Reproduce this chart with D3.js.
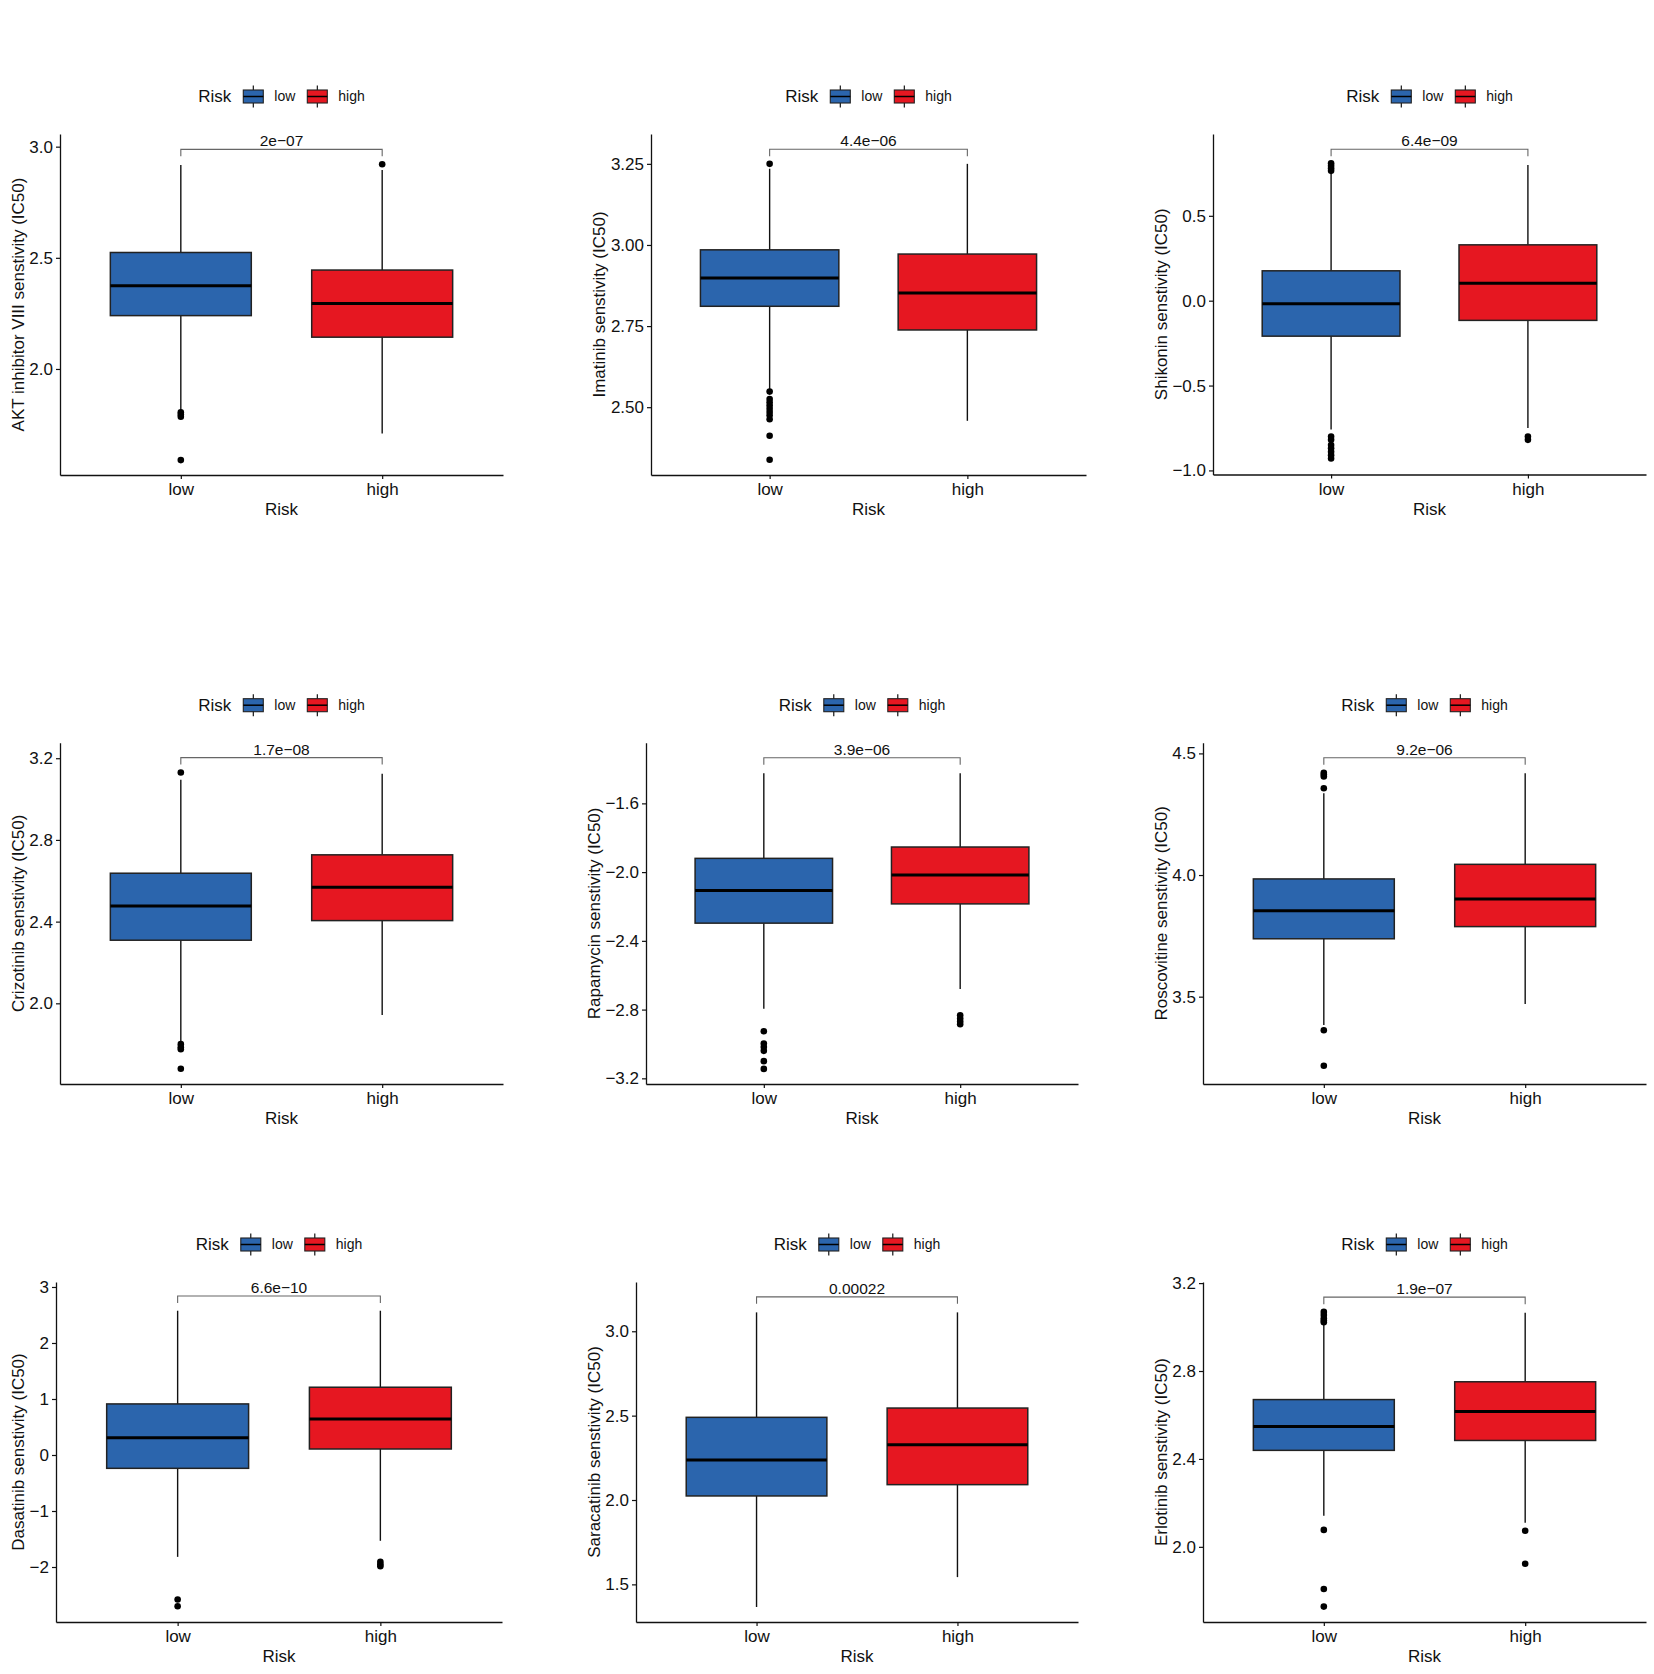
<!DOCTYPE html>
<html>
<head>
<meta charset="utf-8">
<script src="https://cdn.jsdelivr.net/npm/d3@7"></script>
<style>
  body { margin: 0; background: #fff; }
  text { font-family: "Liberation Sans", Arial, sans-serif; }
</style>
</head>
<body>
<script>
// groups and colours
var risk = ["low", "high"];
var riskColors = { "low": "#2b65ad", "high": "#e61721" };

var drugs = ["AKT inhibitor VIII", "Imatinib", "Shikonin",
             "Crizotinib", "Rapamycin", "Roscovitine",
             "Dasatinib", "Saracatinib", "Erlotinib"];

var pValues = ["2e-07", "4.4e-06", "6.4e-09",
               "1.7e-08", "3.9e-06", "9.2e-06",
               "6.6e-10", "0.00022", "1.9e-07"];

// [lower whisker, Q1, median, Q3, upper whisker]
var lowStats = [
  [1.815, 2.240, 2.374, 2.524, 2.918],
  [2.553, 2.811, 2.898, 2.985, 3.235],
  [-0.759, -0.209, -0.018, 0.176, 0.747],
  [1.812, 2.309, 2.477, 2.637, 3.094],
  [-2.795, -2.297, -2.107, -1.920, -1.425],
  [3.384, 3.738, 3.853, 3.984, 4.336],
  [-1.819, -0.238, 0.310, 0.912, 2.576],
  [1.366, 2.024, 2.237, 2.490, 3.112],
  [2.141, 2.439, 2.547, 2.670, 3.012]
];
var highStats = [
  [1.710, 2.143, 2.295, 2.445, 2.895],
  [2.458, 2.738, 2.852, 2.972, 3.250],
  [-0.750, -0.116, 0.102, 0.329, 0.800],
  [1.943, 2.405, 2.568, 2.727, 3.124],
  [-2.680, -2.185, -2.017, -1.854, -1.425],
  [3.470, 3.788, 3.901, 4.044, 4.418],
  [-1.532, 0.107, 0.644, 1.210, 2.576],
  [1.543, 2.091, 2.328, 2.545, 3.112],
  [2.110, 2.484, 2.616, 2.751, 3.065]
];
var lowOutliers = [
  [1.805, 1.795, 1.785, 1.590],
  [3.250, 2.548, 2.525, 2.515, 2.505, 2.495, 2.485, 2.475, 2.463, 2.412, 2.338],
  [0.765, 0.780, 0.795, 0.810, -0.800, -0.820, -0.850, -0.870, -0.890, -0.910, -0.930],
  [3.130, 1.800, 1.785, 1.775, 1.680],
  [-2.926, -2.998, -3.018, -3.040, -3.100, -3.145],
  [4.357, 4.405, 4.413, 4.420, 3.362, 3.216],
  [-2.580, -2.700],
  [],
  [3.069, 3.055, 3.040, 3.030, 3.022, 2.077, 1.808, 1.728]
];
var highOutliers = [
  [2.921],
  [],
  [-0.800, -0.820],
  [],
  [-2.833, -2.852, -2.870, -2.885],
  [],
  [-1.908, -1.950, -1.986],
  [],
  [2.073, 1.923]
];

// axis limits, ticks and the height of the p-value bracket
var yDomains = [[1.523, 3.057], [2.291, 3.342], [-1.024, 0.982],
                [1.605, 3.276], [-3.233, -1.247], [3.141, 4.544],
                [-2.982, 3.089], [1.277, 3.292], [1.658, 3.205]];
var yTicks = [[2.0, 2.5, 3.0], [2.50, 2.75, 3.00, 3.25], [-1.0, -0.5, 0.0, 0.5],
              [2.0, 2.4, 2.8, 3.2], [-3.2, -2.8, -2.4, -2.0, -1.6], [3.5, 4.0, 4.5],
              [-2, -1, 0, 1, 2, 3], [1.5, 2.0, 2.5, 3.0], [2.0, 2.4, 2.8, 3.2]];
var tickFormats = [".1f", ".2f", ".1f", ".1f", ".1f", ".1f", "d", ".1f", ".1f"];
var bracketY = [2.988, 3.295, 0.892, 3.203, -1.335, 4.482, 2.839, 3.204, 3.136];

// where each panel sits on the page (left, right, top, bottom of the axes)
var panels = [
  {l: 60,   r: 503,  t: 134,   b: 475},
  {l: 651,  r: 1086, t: 134,   b: 475},
  {l: 1213, r: 1646, t: 134,   b: 474.5},
  {l: 60,   r: 503,  t: 742.7, b: 1084},
  {l: 646,  r: 1078, t: 742.7, b: 1084},
  {l: 1203, r: 1646, t: 742.7, b: 1084},
  {l: 56,   r: 502,  t: 1282,  b: 1622},
  {l: 636,  r: 1078, t: 1282,  b: 1622},
  {l: 1203, r: 1646, t: 1282,  b: 1622}
];

var W = 1654, H = 1674;
var svg = d3.select("body").append("svg").attr("width", W).attr("height", H);
svg.append("rect").attr("width", W).attr("height", H).attr("fill", "#fff");

function minus(s) { return s.replace(/-/g, "\u2212"); }

function legend(g, cx, cy)
{
  var lg = g.append("g");
  var pos = 0;
  var t = lg.append("text").attr("x", 0).attr("y", cy).attr("dy", "0.35em")
    .attr("style", "font-size:17px;fill:#111").text("Risk");
  pos = t.node().getComputedTextLength() + 12;
  risk.forEach(function(r) {
    lg.append("line").attr("x1", pos + 10).attr("x2", pos + 10)
      .attr("y1", cy - 11).attr("y2", cy + 11)
      .attr("stroke", "#000").attr("stroke-width", 1.1);
    lg.append("rect").attr("x", pos).attr("y", cy - 6.5)
      .attr("width", 20).attr("height", 13)
      .attr("fill", riskColors[r]).attr("stroke", "#222").attr("stroke-width", 1.1);
    lg.append("line").attr("x1", pos).attr("x2", pos + 20)
      .attr("y1", cy).attr("y2", cy)
      .attr("stroke", "#000").attr("stroke-width", 1.5);
    pos += 31;
    var lt = lg.append("text").attr("x", pos).attr("y", cy).attr("dy", "0.35em")
      .attr("style", "font-size:14px;fill:#111").text(r);
    pos += lt.node().getComputedTextLength() + 12;
  });
  var width = pos - 12;
  lg.attr("transform", "translate(" + (cx - width / 2) + ",0)");
}

drugs.forEach(function(drug, i) {
  var p = panels[i];
  var g = svg.append("g");
  var x = d3.scalePoint().domain(risk).range([p.l, p.r]).padding(0.6);
  var y = d3.scaleLinear().domain(yDomains[i]).range([p.b, p.t]);
  var bw = x.step() * 0.7;
  var stats = [lowStats[i], highStats[i]];
  var outs = [lowOutliers[i], highOutliers[i]];

  risk.forEach(function(r, k) {
    var s = stats[k], cx = x(r);
    g.append("line").attr("x1", cx).attr("x2", cx).attr("y1", y(s[0])).attr("y2", y(s[1]))
      .attr("stroke", "#111").attr("stroke-width", 1.4);
    g.append("line").attr("x1", cx).attr("x2", cx).attr("y1", y(s[3])).attr("y2", y(s[4]))
      .attr("stroke", "#111").attr("stroke-width", 1.4);
    g.append("rect")
      .attr("x", cx - bw / 2).attr("y", y(s[3]))
      .attr("width", bw).attr("height", y(s[1]) - y(s[3]))
      .attr("fill", riskColors[r]).attr("stroke", "#222").attr("stroke-width", 1.5);
    g.append("line").attr("x1", cx - bw / 2).attr("x2", cx + bw / 2)
      .attr("y1", y(s[2])).attr("y2", y(s[2]))
      .attr("stroke", "#000").attr("stroke-width", 3);
    g.selectAll(null).data(outs[k]).enter().append("circle")
      .attr("cx", cx).attr("cy", function(d) { return y(d); })
      .attr("r", 3.3).attr("fill", "#000");
  });

  // y axis
  var ya = g.append("g").attr("transform", "translate(" + p.l + ",0)")
    .call(d3.axisLeft(y).tickValues(yTicks[i]).tickFormat(d3.format(tickFormats[i]))
      .tickSize(4).tickPadding(3).tickSizeOuter(0));
  ya.select(".domain").attr("stroke", "#111").attr("stroke-width", 1.3);
  ya.selectAll(".tick line").attr("stroke", "#111").attr("stroke-width", 1.2);
  ya.selectAll(".tick text").attr("font-family", null)
    .attr("style", "font-size:17px;fill:#111");

  // x axis
  var xa = g.append("g").attr("transform", "translate(0," + p.b + ")")
    .call(d3.axisBottom(x).tickSize(4).tickPadding(4).tickSizeOuter(0));
  xa.select(".domain").attr("stroke", "#111").attr("stroke-width", 1.3);
  xa.selectAll(".tick line").attr("stroke", "#111").attr("stroke-width", 1.2);
  xa.selectAll(".tick text").attr("font-family", null)
    .attr("style", "font-size:17px;fill:#111");

  var cx = (p.l + p.r) / 2;
  g.append("text").attr("x", cx).attr("y", p.b + 40).attr("text-anchor", "middle")
    .attr("style", "font-size:17px;fill:#111").text("Risk");

  // y title sits just left of the widest tick label
  var bb = ya.node().getBBox();
  var tx = p.l + bb.x - 5.5;
  g.append("text")
    .attr("transform", "translate(" + tx + "," + ((p.t + p.b) / 2) + ") rotate(-90)")
    .attr("text-anchor", "middle")
    .attr("style", "font-size:17px;fill:#111")
    .text(drug + " senstivity (IC50)");

  // comparison bracket
  var by = y(bracketY[i]), x1 = x("low"), x2 = x("high");
  g.append("path")
    .attr("d", "M" + x1 + "," + (by + 7) + "V" + by + "H" + x2 + "V" + (by + 7))
    .attr("fill", "none").attr("stroke", "#666").attr("stroke-width", 1.1);
  g.append("text").attr("x", (x1 + x2) / 2).attr("y", by - 3)
    .attr("text-anchor", "middle")
    .attr("style", "font-size:15.5px;fill:#111")
    .text(minus(pValues[i]));

  legend(g, cx, p.t - 37.5);
});
</script>
</body>
</html>
